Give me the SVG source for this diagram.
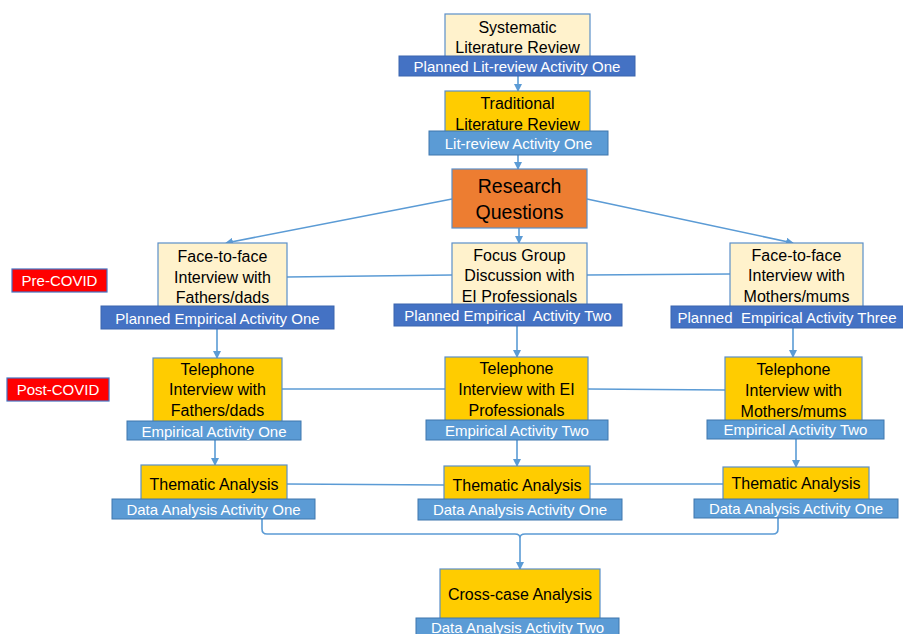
<svg xmlns="http://www.w3.org/2000/svg" width="903" height="634" viewBox="0 0 903 634">
  <defs>
    <style>
      .cream { fill: #FFF2CC; stroke: #5B8FC9; stroke-width: 1.2; }
      .gold { fill: #FFCC00; stroke: #5B8FC9; stroke-width: 1.2; }
      .orange { fill: #ED7D31; stroke: #5B8FC9; stroke-width: 1.2; }
      .tag-dark { fill: #4472C4; stroke: #3A64AE; stroke-width: 1; }
      .tag-light { fill: #5B9BD5; stroke: #3F77AD; stroke-width: 1; }
      .phase { fill: #FF0000; stroke: #4472C4; stroke-width: 1.2; }
      .t { font-family: "Liberation Sans", Arial, sans-serif; font-size: 16px; fill: #000; text-anchor: middle; dominant-baseline: central; }
      .big { font-size: 19.5px; }
      .tag { font-family: "Liberation Sans", Arial, sans-serif; font-size: 15px; fill: #fff; text-anchor: middle; dominant-baseline: central; }
      .wire { fill: none; stroke: #5B9BD5; stroke-width: 1.6; }
      .arrow { fill: none; stroke: #5B9BD5; stroke-width: 1.6; marker-end: url(#head); }
    </style>
    <marker id="head" markerWidth="8" markerHeight="8" refX="7" refY="4" orient="auto" markerUnits="userSpaceOnUse">
      <path d="M0,0 L8,4 L0,8 Z" fill="#5B9BD5"/>
    </marker>
  </defs>

  <rect width="903" height="634" fill="#ffffff"/>

  <!-- connectors -->
  <g id="connectors">
    <line class="arrow" x1="518" y1="76" x2="518" y2="91"/>
    <line class="arrow" x1="518" y1="155" x2="518" y2="169"/>
    <line class="arrow" x1="452" y1="199" x2="226" y2="243"/>
    <line class="arrow" x1="519" y1="228" x2="519" y2="243"/>
    <line class="arrow" x1="587" y1="199" x2="793" y2="243"/>
    <line class="wire" x1="287" y1="277" x2="452" y2="275"/>
    <line class="wire" x1="587" y1="275" x2="730" y2="274"/>
    <line class="arrow" x1="217" y1="329" x2="217" y2="358"/>
    <line class="arrow" x1="517" y1="326" x2="517" y2="357"/>
    <line class="arrow" x1="793" y1="328" x2="793" y2="357"/>
    <line class="wire" x1="282" y1="389" x2="445" y2="389"/>
    <line class="wire" x1="588" y1="389" x2="725" y2="390"/>
    <line class="arrow" x1="215" y1="440" x2="215" y2="465"/>
    <line class="arrow" x1="517" y1="440" x2="517" y2="466"/>
    <line class="arrow" x1="796" y1="439" x2="796" y2="467"/>
    <line class="wire" x1="287" y1="484" x2="444" y2="485"/>
    <line class="wire" x1="590" y1="484" x2="723" y2="484"/>
    <path class="wire" d="M262,519 L262,529 Q262,534 267,534 L515,534 Q520,534 520,538 Q520,534 525,534 L773,534 Q778,534 778,529 L778,518"/>
    <line class="arrow" x1="520" y1="538" x2="520" y2="569"/>
  </g>

  <!-- phase markers -->
  <g id="pre-covid">
    <rect class="phase" x="12" y="269" width="95" height="23"/>
    <text class="tag" x="59.5" y="280.5">Pre-COVID</text>
  </g>
  <g id="post-covid">
    <rect class="phase" x="7" y="378" width="102" height="23"/>
    <text class="tag" x="58" y="389.5">Post-COVID</text>
  </g>

  <g id="systematic-review">
    <rect class="cream" x="445" y="14" width="145" height="50"/>
    <text class="t" x="517.5" y="27">Systematic</text>
    <text class="t" x="517.5" y="47">Literature Review</text>
    <rect class="tag-dark" x="399" y="56" width="236" height="20"/>
    <text class="tag" x="517" y="66">Planned Lit-review Activity One</text>
  </g>

  <g id="traditional-review">
    <rect class="gold" x="445" y="91" width="145" height="50"/>
    <text class="t" x="517.5" y="103">Traditional</text>
    <text class="t" x="517.5" y="124">Literature Review</text>
    <rect class="tag-light" x="429" y="131" width="179" height="24"/>
    <text class="tag" x="518.5" y="143">Lit-review Activity One</text>
  </g>

  <g id="research-questions">
    <rect class="orange" x="452" y="169" width="135" height="59"/>
    <text class="t big" x="519.5" y="186">Research</text>
    <text class="t big" x="519.5" y="212">Questions</text>
  </g>

  <g id="f2f-fathers">
    <rect class="cream" x="158" y="243" width="129" height="66"/>
    <text class="t" x="222.5" y="256">Face-to-face</text>
    <text class="t" x="222.5" y="277">Interview with</text>
    <text class="t" x="222.5" y="297">Fathers/dads</text>
    <rect class="tag-dark" x="101" y="306" width="233" height="23"/>
    <text class="tag" x="217.5" y="318">Planned Empirical Activity One</text>
  </g>

  <g id="focus-group">
    <rect class="cream" x="452" y="243" width="135" height="64"/>
    <text class="t" x="519.5" y="255">Focus Group</text>
    <text class="t" x="519.5" y="275">Discussion with</text>
    <text class="t" x="519.5" y="296">EI Professionals</text>
    <rect class="tag-dark" x="394" y="304" width="228" height="22"/>
    <text class="tag" x="508" y="315" xml:space="preserve">Planned Empirical  Activity Two</text>
  </g>

  <g id="f2f-mothers">
    <rect class="cream" x="730" y="243" width="133" height="65"/>
    <text class="t" x="796.5" y="255">Face-to-face</text>
    <text class="t" x="796.5" y="275">Interview with</text>
    <text class="t" x="796.5" y="296">Mothers/mums</text>
    <rect class="tag-dark" x="671" y="306" width="240" height="22"/>
    <text class="tag" x="787" y="317" xml:space="preserve">Planned  Empirical Activity Three</text>
  </g>

  <g id="phone-fathers">
    <rect class="gold" x="153" y="358" width="129" height="65"/>
    <text class="t" x="217.5" y="369">Telephone</text>
    <text class="t" x="217.5" y="389">Interview with</text>
    <text class="t" x="217.5" y="410">Fathers/dads</text>
    <rect class="tag-light" x="127" y="421" width="174" height="19"/>
    <text class="tag" x="214" y="431">Empirical Activity One</text>
  </g>

  <g id="phone-professionals">
    <rect class="gold" x="445" y="357" width="143" height="65"/>
    <text class="t" x="516.5" y="368">Telephone</text>
    <text class="t" x="516.5" y="389">Interview with EI</text>
    <text class="t" x="516.5" y="410">Professionals</text>
    <rect class="tag-light" x="426" y="420" width="182" height="20"/>
    <text class="tag" x="517" y="430">Empirical Activity Two</text>
  </g>

  <g id="phone-mothers">
    <rect class="gold" x="725" y="357" width="137" height="65"/>
    <text class="t" x="793.5" y="369">Telephone</text>
    <text class="t" x="793.5" y="390">Interview with</text>
    <text class="t" x="793.5" y="411">Mothers/mums</text>
    <rect class="tag-light" x="707" y="420" width="177" height="19"/>
    <text class="tag" x="795.5" y="429.5">Empirical Activity Two</text>
  </g>

  <g id="thematic-fathers">
    <rect class="gold" x="141" y="465" width="146" height="36"/>
    <text class="t" x="214" y="484">Thematic Analysis</text>
    <rect class="tag-light" x="112" y="499" width="203" height="20"/>
    <text class="tag" x="213.5" y="509">Data Analysis Activity One</text>
  </g>

  <g id="thematic-professionals">
    <rect class="gold" x="444" y="466" width="146" height="36"/>
    <text class="t" x="517" y="485">Thematic Analysis</text>
    <rect class="tag-light" x="418" y="499" width="204" height="21"/>
    <text class="tag" x="520" y="509.5">Data Analysis Activity One</text>
  </g>

  <g id="thematic-mothers">
    <rect class="gold" x="723" y="467" width="146" height="33"/>
    <text class="t" x="796" y="483">Thematic Analysis</text>
    <rect class="tag-light" x="694" y="499" width="204" height="19"/>
    <text class="tag" x="796" y="508.5">Data Analysis Activity One</text>
  </g>

  <g id="cross-case">
    <rect class="gold" x="440" y="569" width="160" height="52"/>
    <text class="t" x="520" y="594">Cross-case Analysis</text>
    <rect class="tag-light" x="416" y="618" width="203" height="22"/>
    <text class="tag" x="517.5" y="627">Data Analysis Activity Two</text>
  </g>
</svg>
